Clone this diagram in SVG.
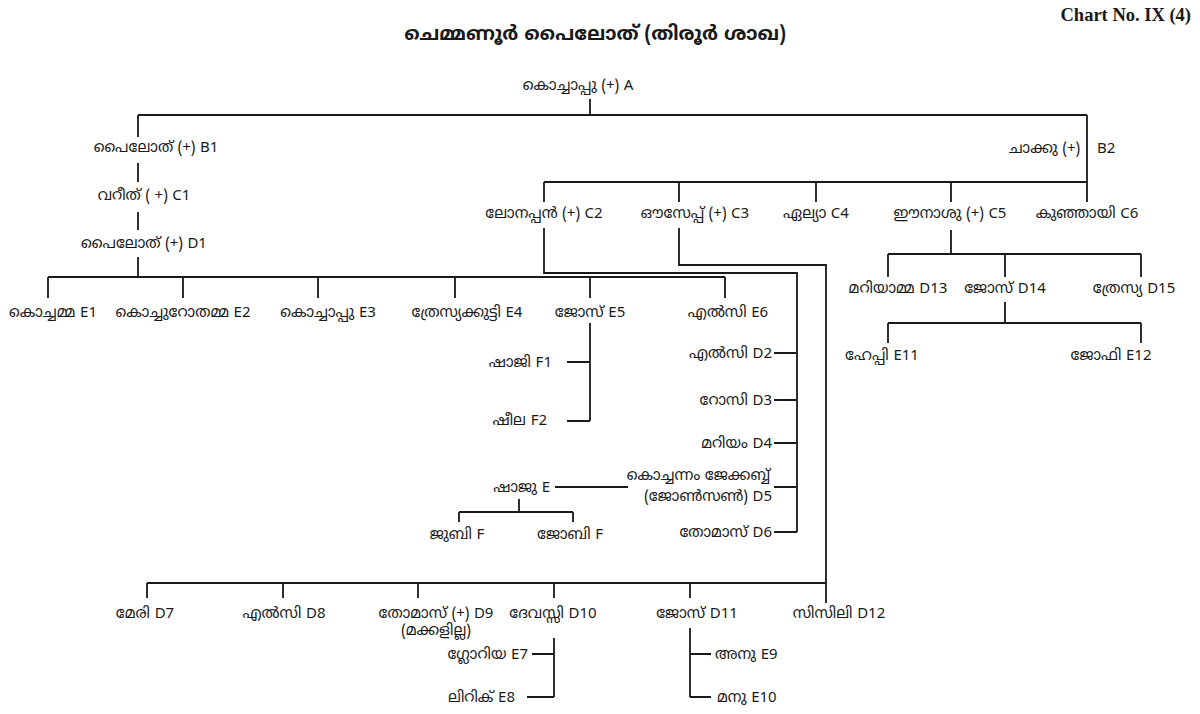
<svg xmlns="http://www.w3.org/2000/svg" width="1200" height="714" viewBox="0 0 1200 714">
<style>
text{font-family:"Noto Sans Malayalam","Noto Sans","DejaVu Sans",sans-serif;font-size:15px;fill:#1a1a1a}
.m{text-anchor:middle}.e{text-anchor:end}.s{text-anchor:start}
.title{font-size:19.5px;font-weight:bold;text-anchor:middle}
.chart{font-family:"Liberation Serif","Times New Roman",serif;font-size:18.5px;font-weight:bold;text-anchor:end}
#edges path{fill:none;stroke:#1a1a1a;stroke-width:1.8}
</style>
<rect width="1200" height="714" fill="#fff"/>
<text class="chart" x="1191" y="21">Chart No. IX (4)</text>
<text class="title" x="595" y="40">ചെമ്മണൂർ പൈലോത് (തിരൂർ ശാഖ)</text>
<g id="edges">
<path d="M590 99V115M138 115H1087"/>
<path d="M138 115V137M138 163V182M138 212V230M138 257V277"/>
<path d="M48 277H725M48 277V298M183 277V298M318 277V298M455 277V298M590 277V298M725 277V298"/>
<path d="M590 323V421M567 362H590M567 421H590"/>
<path d="M544 182H1087M544 182V202M679 182V202M816 182V202M951 182V202M1087 115V202"/>
<path d="M544 228V273H797V532M774 353H797M774 400H797M774 443H797M774 487H797M774 532H797"/>
<path d="M679 228V265H826V603"/>
<path d="M147 583H826M147 583V598M283 583V598M418 583V598M554 583V598M690 583V598"/>
<path d="M554 638V697M532 654H554M527 697H554"/>
<path d="M690 628V697M690 654H711M690 697H711"/>
<path d="M555 487H628M519 499V512M459 512H573M459 512V522M573 512V522"/>
<path d="M951 230V254M888 254H1141M888 254V277M1005 254V277M1141 254V277"/>
<path d="M1005 302V323M888 323H1141M888 323V343M1141 323V343"/>
</g>
<g id="A"><text class="m" x="578" y="90">കൊച്ചാപ്പു (+) A</text></g>
<g id="B1"><text class="m" x="156" y="152">പൈലോത്  (+) B1</text></g>
<g id="C1"><text class="m" x="144" y="200">വറീത് ( +) C1</text></g>
<g id="D1"><text class="m" x="144" y="248">പൈലോത് (+) D1</text></g>
<g id="B2"><text class="e" x="1080" y="153">ചാക്കു (+)</text><text class="s" x="1097" y="153">B2</text></g>
<g id="C2"><text class="m" x="544" y="218">ലോനപ്പൻ (+) C2</text></g>
<g id="C3"><text class="m" x="695" y="218">ഔസേപ്പ് (+) C3</text></g>
<g id="C4"><text class="m" x="816" y="218">ഏല്യാ C4</text></g>
<g id="C5"><text class="m" x="950" y="218">ഈനാശു (+) C5</text></g>
<g id="C6"><text class="m" x="1087" y="218">കുഞ്ഞായി C6</text></g>
<g id="E1"><text class="m" x="53" y="317">കൊച്ചമ്മ E1</text></g>
<g id="E2"><text class="m" x="183" y="317">കൊച്ചുറോതമ്മ E2</text></g>
<g id="E3"><text class="m" x="328" y="317">കൊച്ചാപ്പു  E3</text></g>
<g id="E4"><text class="m" x="467" y="317">ത്രേസ്യക്കുട്ടി E4</text></g>
<g id="E5"><text class="m" x="590" y="317">ജോസ് E5</text></g>
<g id="E6"><text class="m" x="728" y="317">എൽസി E6</text></g>
<g id="F1"><text class="e" x="552" y="367">ഷാജി F1</text></g>
<g id="F2"><text class="e" x="547" y="425">ഷീല F2</text></g>
<g id="D2"><text class="e" x="772" y="358">എൽസി D2</text></g>
<g id="D3"><text class="e" x="772" y="405">റോസി D3</text></g>
<g id="D4"><text class="e" x="772" y="448">മറിയം D4</text></g>
<g id="D5"><text class="e" x="770" y="480">കൊച്ചന്നം ജേക്കബ്ബ്</text><text class="e" x="772" y="501">(ജോൺസൺ) D5</text></g>
<g id="D6"><text class="e" x="772" y="537">തോമാസ് D6</text></g>
<g id="ShajuE"><text class="e" x="550" y="492">ഷാജു E</text></g>
<g id="JubiF"><text class="m" x="457" y="539">ജുബി F</text></g>
<g id="JobiF"><text class="m" x="570" y="539">ജോബി F</text></g>
<g id="D13"><text class="m" x="898" y="293">മറിയാമ്മ D13</text></g>
<g id="D14"><text class="m" x="1005" y="293">ജോസ് D14</text></g>
<g id="D15"><text class="m" x="1134" y="293">ത്രേസ്യ D15</text></g>
<g id="E11"><text class="m" x="882" y="360">ഹേപ്പി E11</text></g>
<g id="E12"><text class="m" x="1111" y="360">ജോഫി E12</text></g>
<g id="D7"><text class="m" x="145" y="618">മേരി D7</text></g>
<g id="D8"><text class="m" x="284" y="618">എൽസി D8</text></g>
<g id="D9"><text class="m" x="436" y="618">തോമാസ് (+) D9</text><text class="m" x="436" y="635">(മക്കളില്ല)</text></g>
<g id="D10"><text class="m" x="553" y="618">ദേവസ്സി D10</text></g>
<g id="D11"><text class="m" x="697" y="618">ജോസ് D11</text></g>
<g id="D12"><text class="m" x="839" y="618">സിസിലി D12</text></g>
<g id="E7"><text class="e" x="528" y="659">ഗ്ലോറിയ E7</text></g>
<g id="E8"><text class="e" x="515" y="702">ലിറിക് E8</text></g>
<g id="E9"><text class="s" x="715" y="659">അനു E9</text></g>
<g id="E10"><text class="s" x="717" y="702">മനു E10</text></g>
</svg>
